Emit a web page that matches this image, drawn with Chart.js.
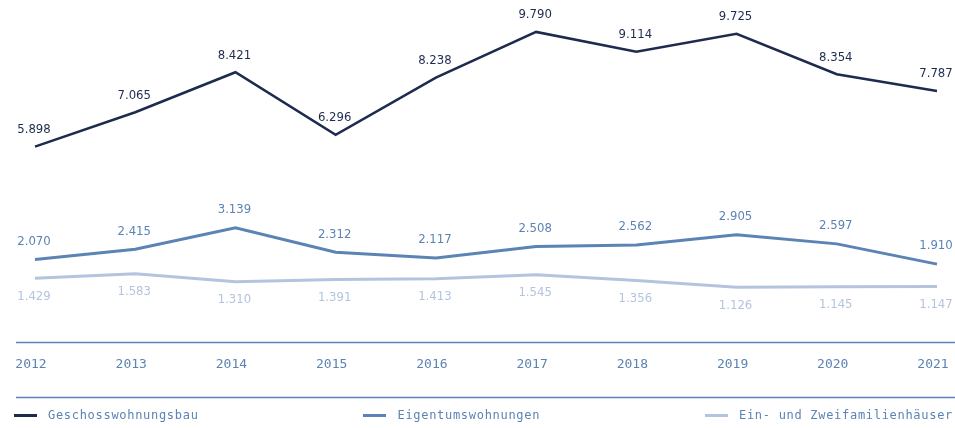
<!DOCTYPE html>
<html>
<head>
<meta charset="utf-8">
<script src="https://cdn.jsdelivr.net/npm/chart.js@4.4.1/dist/chart.umd.min.js"></script>
<style>
  html, body { margin: 0; padding: 0; background: #fff; }
  #wrap { position: relative; width: 955px; height: 428px; }
  #chartBox { position: absolute; left: 0; top: 0; width: 955px; height: 428px; }
  #legend {
    position: absolute; left: 14px; right: 2px; top: 406px; height: 18px;
    display: flex; justify-content: space-between; align-items: center;
    font-family: "DejaVu Sans Mono", monospace; font-size: 12px; letter-spacing: 0.7px;
    color: #5b84b4;
  }
  .item { display: flex; align-items: center; }
  .swatch { width: 23px; height: 3px; margin-right: 11px; }
</style>
</head>
<body>
<div id="wrap">
  <div id="chartBox"><canvas id="lineChart"></canvas></div>
  <div id="legend"></div>
</div>
<script>
// ----- Data -----
const years = ['2012', '2013', '2014', '2015', '2016', '2017', '2018', '2019', '2020', '2021'];
const geschoss = [5898, 7065, 8421, 6296, 8238, 9790, 9114, 9725, 8354, 7787];
const eigentum = [2070, 2415, 3139, 2312, 2117, 2508, 2562, 2905, 2597, 1910];
const einZwei = [1429, 1583, 1310, 1391, 1413, 1545, 1356, 1126, 1145, 1147];

const seriesNames = ['Geschosswohnungsbau', 'Eigentumswohnungen', 'Ein- und Zweifamilienhäuser'];
const seriesColors = ['#1e2b4f', '#5b84b4', '#b4c4de'];
const labelColors = ['#1e2b4f', '#5b84b4', '#b4c4de'];
const labelOffsets = [-17, -18, 18]; // negative = above the point

function fmt(v) {
  return v.toLocaleString('de-DE');
}

// draws the value labels next to each point
const valueLabels = {
  id: 'valueLabels',
  afterDatasetsDraw(chart) {
    const ctx = chart.ctx;
    ctx.save();
    ctx.font = '13px "Liberation Sans Narrow", "DejaVu Sans Condensed", "Roboto", sans-serif';
    ctx.textAlign = 'center';
    ctx.textBaseline = 'middle';
    chart.data.datasets.forEach((ds, i) => {
      const meta = chart.getDatasetMeta(i);
      ctx.fillStyle = labelColors[i];
      meta.data.forEach((pt, j) => {
        ctx.fillText(fmt(ds.data[j]), pt.x - 1, pt.y + labelOffsets[i]);
      });
    });
    ctx.restore();
  }
};

// horizontal rules above and below the year labels
const rules = {
  id: 'rules',
  afterDraw(chart) {
    const ctx = chart.ctx;
    const b = chart.chartArea.bottom;
    ctx.save();
    ctx.strokeStyle = '#5b84b4';
    ctx.lineWidth = 1.5;
    [b + 22, b + 77].forEach(y => {
      ctx.beginPath();
      ctx.moveTo(16, y);
      ctx.lineTo(955, y);
      ctx.stroke();
    });
    ctx.restore();
  }
};

const datasets = [geschoss, eigentum, einZwei].map((arr, i) => ({
  label: seriesNames[i],
  data: arr,
  borderColor: seriesColors[i],
  backgroundColor: seriesColors[i],
  borderWidth: i === 0 ? 2.5 : 3,
  pointRadius: 0,
  tension: 0,
  fill: false
}));

new Chart(document.getElementById('lineChart'), {
  type: 'line',
  data: { labels: years, datasets },
  options: {
    responsive: true,
    maintainAspectRatio: false,
    animation: false,
    layout: { padding: { left: 35, right: 18, top: 11, bottom: 20 } },
    plugins: {
      legend: { display: false },
      tooltip: { enabled: false }
    },
    scales: {
      x: {
        offset: false,
        grid: { display: false, drawTicks: false },
        border: { display: false },
        ticks: {
          color: '#5b84b4',
          padding: 36,
          labelOffset: -4,
          maxRotation: 0,
          autoSkip: false,
          font: { family: '"DejaVu Sans Mono", monospace', size: 13 }
        },
        // the tick padding is meant only for vertical spacing
        afterFit(scale) {
          scale.paddingLeft = 0;
          scale.paddingRight = 0;
        }
      },
      y: {
        display: false,
        min: 0,
        max: 10500
      }
    }
  },
  plugins: [valueLabels, rules]
});

// HTML legend
const legendEl = document.getElementById('legend');
seriesNames.forEach((name, i) => {
  const item = document.createElement('div');
  item.className = 'item';
  item.innerHTML = `<span class="swatch" style="background:${seriesColors[i]}"></span><span>${name}</span>`;
  legendEl.appendChild(item);
});
</script>
</body>
</html>
